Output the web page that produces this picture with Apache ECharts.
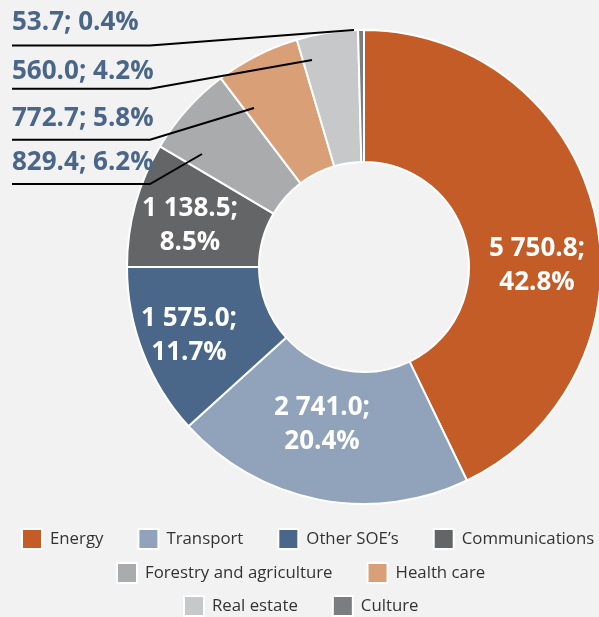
<!DOCTYPE html>
<html>
<head>
<meta charset="utf-8">
<script src="https://cdn.jsdelivr.net/npm/echarts@6/dist/echarts.min.js"></script>
<style>
html, body { margin: 0; padding: 0; background: #f2f2f2; }
#container { width: 599px; height: 617px; }
</style>
</head>
<body>
<div id="container"></div>
<script>
var categories = ['Energy', 'Transport', 'Other SOE’s', 'Communications', 'Forestry and agriculture', 'Health care', 'Real estate', 'Culture'];
var values = [5750.8, 2741.0, 1575.0, 1138.5, 829.4, 772.7, 560.0, 53.7];
var percents = ['42.8', '20.4', '11.7', '8.5', '6.2', '5.8', '4.2', '0.4'];
var colors = ['#c45c28', '#90a3ba', '#4a6688', '#646567', '#aaabad', '#d99f77', '#c7c8ca', '#7c7d80'];

var cx = 364, cy = 267;
// label placement: inner labels by center; outer labels: text row y, line row y, line end point
var innerPos = { 0: [537, 266], 1: [322, 425], 2: [189, 336], 3: [190, 226] };
var outerPos = {
    7: [23, 45.5, [354, 30]],
    6: [71.5, 88.7, [312, 60]],
    5: [119, 139.7, [254, 108]],
    4: [162.5, 184, [202, 154]]
};

function fmt(v) {
    var s = v.toFixed(1).split('.');
    return s[0].replace(/\B(?=(\d{3})+(?!\d))/g, ' ') + '.' + s[1];
}

var dom = document.getElementById('container');
var myChart = echarts.init(dom);

var pieData = [], labelData = [];
for (var i = 0; i < categories.length; i++) {
    var inner = i < 4;
    pieData.push({
        name: categories[i],
        value: values[i],
        itemStyle: { color: colors[i] },
        label: { show: inner },
        labelLine: { show: false }
    });
    // second, transparent ring only carries the outer labels so their lines sit on top
    labelData.push({
        name: categories[i],
        value: values[i],
        itemStyle: { color: 'rgba(0,0,0,0)', borderWidth: 0 },
        label: { show: !inner },
        labelLine: { show: !inner }
    });
}

var legendBase = {
    icon: 'rect',
    itemWidth: 20,
    itemHeight: 20,
    itemGap: 34,
    padding: 0,
    selectedMode: false,
    orient: 'horizontal',
    textStyle: { fontFamily: 'Open Sans', fontSize: 16.8, color: '#333', padding: [0, 0, 0, 3] }
};

var labelFont = { fontFamily: 'Open Sans', fontSize: 26, fontWeight: 'bold' };

option = {
    backgroundColor: '#f2f2f2',
    animation: false,
    legend: [
        echarts.util.extend({ data: categories.slice(0, 4), left: 21, top: 528 }, legendBase),
        echarts.util.extend({ data: categories.slice(4, 6), left: 116, top: 562 }, legendBase),
        echarts.util.extend({ data: categories.slice(6), left: 183, top: 595 }, legendBase)
    ],
    series: [{
        type: 'pie',
        center: [cx, cy],
        radius: [105, 237],
        startAngle: 90,
        clockwise: true,
        avoidLabelOverlap: false,
        itemStyle: { borderColor: '#fff', borderWidth: 2 },
        label: echarts.util.extend({
            position: 'inside',
            color: '#fff',
            lineHeight: 34,
            formatter: function (p) {
                return fmt(values[p.dataIndex]) + ';\n' + percents[p.dataIndex] + '%';
            }
        }, labelFont),
        labelLayout: function (params) {
            var p = innerPos[params.dataIndex];
            if (!p) return {};
            return { x: p[0], y: p[1], align: 'center', verticalAlign: 'middle' };
        },
        data: pieData
    }, {
        type: 'pie',
        z: 5,
        silent: true,
        center: [cx, cy],
        radius: [105, 237],
        startAngle: 90,
        clockwise: true,
        avoidLabelOverlap: false,
        label: echarts.util.extend({
            position: 'outside',
            color: '#4a6688',
            formatter: function (p) {
                return fmt(values[p.dataIndex]) + '; ' + percents[p.dataIndex] + '%';
            }
        }, labelFont),
        labelLine: { length: 10, length2: 10, lineStyle: { color: '#000', width: 2 } },
        labelLayout: function (params) {
            var o = outerPos[params.dataIndex];
            if (!o) return {};
            return {
                x: 12, y: o[0], align: 'left', verticalAlign: 'middle',
                labelLinePoints: [o[2], [150, o[1]], [12, o[1]]]
            };
        },
        data: labelData
    }]
};
if (option && typeof option === 'object') {
    myChart.setOption(option, true);
}
</script>
</body>
</html>
